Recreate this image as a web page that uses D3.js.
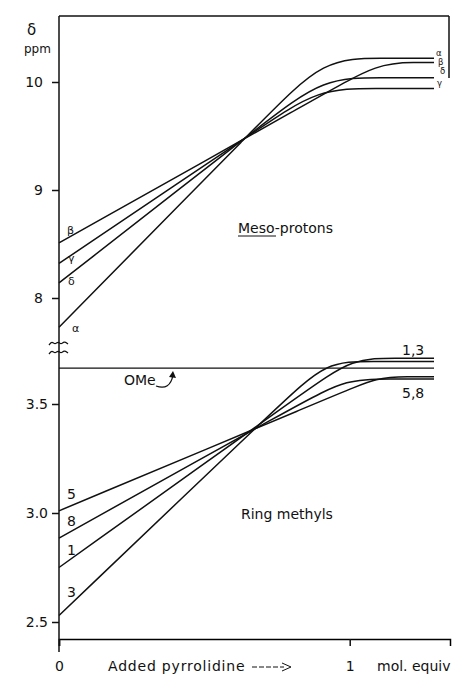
<!DOCTYPE html>
<html>
<head>
<meta charset="utf-8">
<script src="https://cdn.jsdelivr.net/npm/d3@7"></script>
<style>
  body { margin: 0; background: white; }
  text { font-family: "DejaVu Sans", sans-serif; fill: #111; }
</style>
</head>
<body>
<div id="chart_div"></div>
<script>

// upper panel, meso-protons (x = mol. equiv, y = ppm)
let meso_names = ["α", "β", "γ", "δ"]
let meso_alpha = [[0, 7.73], [0.71, 9.67], [0.91, 10.22], [1.11, 10.22], [1.29, 10.22]]
let meso_beta  = [[0, 8.51], [0.90, 9.87], [1.10, 10.18], [1.23, 10.18], [1.29, 10.18]]
let meso_gamma = [[0, 8.32], [0.69, 9.57], [0.89, 9.94], [1.09, 9.94], [1.29, 9.94]]
let meso_delta = [[0, 8.14], [0.71, 9.63], [0.91, 10.04], [1.11, 10.04], [1.29, 10.04]]
let meso_ticks = [8, 9, 10]

// lower panel, ring methyls
let ring_names = ["5", "8", "1", "3"]
let ring_5 = [[0, 3.01], [0.95, 3.54], [1.1, 3.625], [1.2, 3.625], [1.29, 3.625]]
let ring_8 = [[0, 2.885], [0.84, 3.51], [0.99, 3.615], [1.14, 3.615], [1.29, 3.615]]
let ring_1 = [[0, 2.75], [0.86, 3.57], [1.01, 3.71], [1.16, 3.71], [1.29, 3.71]]
let ring_3 = [[0, 2.53], [0.77, 3.51], [0.92, 3.695], [1.07, 3.695], [1.29, 3.695]]
let ome = [[0, 3.665], [1.29, 3.665]]
let ring_ticks = [2.5, 3.0, 3.5]
let ring_tick_labels = ["2.5", "3.0", "3.5"]

let x_ticks = [0, 1]

let width = 453
let height = 674

let svg = d3.select("#chart_div")
  .append("svg")
  .attr("width", width)
  .attr("height", height)

let x = d3.scaleLinear().domain([0, 1.345]).range([59, 450])
let y_top = d3.scaleLinear().domain([8, 10]).range([298, 82])
let y_bot = d3.scaleLinear().domain([2.5, 3.5]).range([622, 404])

let ink = "#111"

// frame: left axis, top border and the bit of right border
svg.append("line").attr("x1", x(0)).attr("x2", x(0)).attr("y1", 16).attr("y2", 652)
  .attr("stroke", ink).attr("stroke-width", 1.5)
svg.append("line").attr("x1", x(0)).attr("x2", 449).attr("y1", 16).attr("y2", 16)
  .attr("stroke", ink).attr("stroke-width", 1.5)
svg.append("line").attr("x1", 449).attr("x2", 449).attr("y1", 16).attr("y2", 78)
  .attr("stroke", ink).attr("stroke-width", 1.5)

// axes
let ax_top = svg.append("g")
  .attr("transform", "translate(" + x(0) + ",0)")
  .call(d3.axisLeft(y_top).tickValues(meso_ticks).tickSize(7).tickPadding(9).tickFormat(d3.format("d")))
let ax_bot = svg.append("g")
  .attr("transform", "translate(" + x(0) + ",0)")
  .call(d3.axisLeft(y_bot).tickValues(ring_ticks).tickSize(7).tickPadding(4)
    .tickFormat((d, i) => ring_tick_labels[i]))
let ax_x = svg.append("g")
  .attr("transform", "translate(0,639)")
  .call(d3.axisBottom(x).tickValues(x_ticks).tickSize(7).tickPadding(15).tickFormat(d3.format("d")))

ax_top.select(".domain").remove()
ax_bot.select(".domain").remove()
ax_x.select(".domain").attr("stroke-width", 1.5)
svg.selectAll(".tick line").attr("stroke", ink).attr("stroke-width", 1.5)
svg.selectAll(".tick text").style("font-size", "14px").attr("fill", ink)

// axis break marks
let wave = d3.line().curve(d3.curveBasis)
;[343, 352].forEach(yy => {
  svg.append("path")
    .attr("d", wave([[49, yy + 2], [52, yy - 2], [55, yy + 2], [58, yy - 2], [61, yy + 2], [64, yy - 2], [68, yy + 1]]))
    .attr("fill", "none").attr("stroke", ink).attr("stroke-width", 1.3)
})

// curves
let line_top = d3.line().x(d => x(d[0])).y(d => y_top(d[1])).curve(d3.curveBasis)
let line_bot = d3.line().x(d => x(d[0])).y(d => y_bot(d[1])).curve(d3.curveBasis)

let meso_series = [meso_alpha, meso_beta, meso_gamma, meso_delta]
let ring_series = [ring_5, ring_8, ring_1, ring_3]

svg.append("g").selectAll("path")
  .data(meso_series)
  .join("path")
  .attr("d", d => line_top(d))
  .attr("fill", "none").attr("stroke", ink).attr("stroke-width", 1.5)

svg.append("g").selectAll("path")
  .data(ring_series)
  .join("path")
  .attr("d", d => line_bot(d))
  .attr("fill", "none").attr("stroke", ink).attr("stroke-width", 1.5)

svg.append("path")
  .attr("d", line_bot(ome))
  .attr("fill", "none").attr("stroke", ink).attr("stroke-width", 1.3)

// series labels at left end
let meso_left_dy = [5, -9, -1, 2]
let meso_left_dx = [13, 8, 9, 9]
svg.append("g").selectAll("text")
  .data(meso_series)
  .join("text")
  .attr("x", (d, i) => x(0) + meso_left_dx[i])
  .attr("y", (d, i) => y_top(d[0][1]) + meso_left_dy[i])
  .style("font-size", "11px")
  .text((d, i) => meso_names[i])

let ring_left_dy = [-12, -12, -13, -18]
svg.append("g").selectAll("text")
  .data(ring_series)
  .join("text")
  .attr("x", x(0) + 8)
  .attr("y", (d, i) => y_bot(d[0][1]) + ring_left_dy[i])
  .style("font-size", "14px")
  .text((d, i) => ring_names[i])

// labels at right end (α, β, δ, γ stacked)
let right_order = [0, 1, 3, 2]
let right_x = [436, 438, 440, 437]
let right_y = [56, 65, 74, 86]
right_order.forEach((k, j) => {
  svg.append("text")
    .attr("x", right_x[j]).attr("y", right_y[j])
    .style("font-size", "8.5px")
    .text(meso_names[k])
})

svg.append("text").attr("x", 402).attr("y", 355).style("font-size", "14px").text("1,3")
svg.append("text").attr("x", 402).attr("y", 398).style("font-size", "14px").text("5,8")

// OMe with curved arrow
svg.append("text").attr("x", 124).attr("y", 385).style("font-size", "14px").text("OMe")
svg.append("path")
  .attr("d", "M156,386 Q170,391 173,375")
  .attr("fill", "none").attr("stroke", ink).attr("stroke-width", 1.3)
svg.append("path")
  .attr("d", "M169,377 L173,371 L176,378 Z")
  .attr("fill", ink)

// panel titles
svg.append("text").attr("x", 238).attr("y", 233).style("font-size", "14px").text("Meso-protons")
svg.append("line").attr("x1", 238).attr("x2", 276).attr("y1", 236).attr("y2", 236)
  .attr("stroke", ink).attr("stroke-width", 1)
svg.append("text").attr("x", 241).attr("y", 519).style("font-size", "14px").text("Ring methyls")

// y-axis caption
svg.append("text").attr("x", 27).attr("y", 35).style("font-size", "15px").text("δ")
svg.append("text").attr("x", 24).attr("y", 53).style("font-size", "12px").text("ppm")

// x-axis caption
svg.append("text").attr("x", 108).attr("y", 671).style("font-size", "14px")
  .style("letter-spacing", "0.8px").text("Added  pyrrolidine")
svg.append("line").attr("x1", 252).attr("x2", 284).attr("y1", 667).attr("y2", 667)
  .attr("stroke", ink).attr("stroke-width", 1).attr("stroke-dasharray", "5,2")
svg.append("path").attr("d", "M282,663 L291,667 L282,671").attr("fill", "none")
  .attr("stroke", ink).attr("stroke-width", 1)
svg.append("text").attr("x", 377).attr("y", 671).style("font-size", "14px").text("mol. equiv")

</script>
</body>
</html>
